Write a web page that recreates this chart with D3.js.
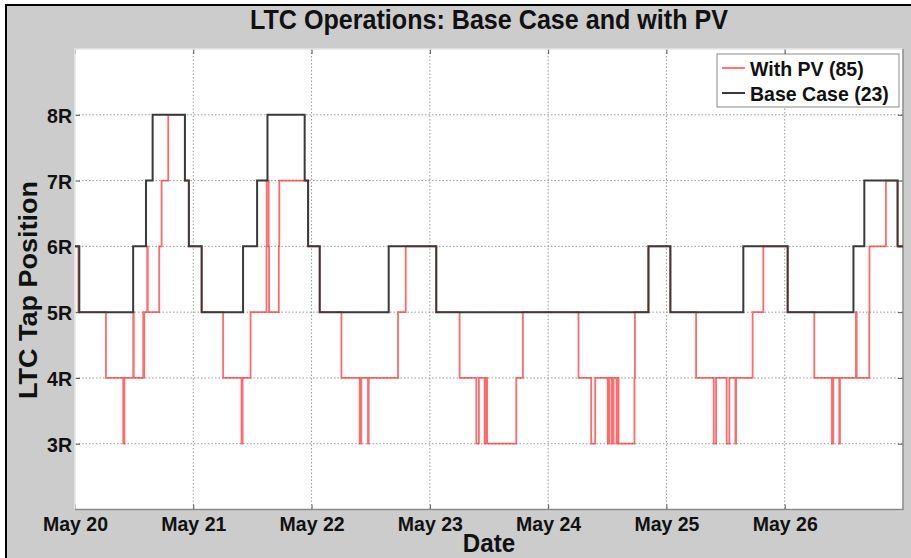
<!DOCTYPE html>
<html>
<head>
<meta charset="utf-8">
<script src="https://cdn.jsdelivr.net/npm/d3@7"></script>
<style>
  html, body { margin: 0; padding: 0; background: #fff; }
  svg { display: block; }
  text { font-family: 'Liberation Sans', Arial, sans-serif; font-weight: bold; }
</style>
</head>
<body>
<svg id="chart" width="911" height="558"></svg>
<script>
// tap changes as [hours since May 20 00:00, tap position]
const baseCaseSteps = [
    [0, 6], [0.87, 5], [11.8, 6], [14.4, 7], [15.75, 8], [22.3, 7], [23.1, 6], [25.7, 5],
    [34.1, 6], [36.95, 7], [39.05, 8], [46.6, 7], [47.3, 6], [49.65, 5],
    [63.65, 6], [73.3, 5], [116.35, 6], [120.8, 5], [135.6, 6], [144.6, 5],
    [157.95, 6], [160.15, 7], [166.9, 6]
];
const withPvSteps = [
    [0, 6], [0.67, 5], [6.28, 4], [9.79, 3], [10.03, 4], [11.82, 5], [11.92, 4], [13.85, 5],
    [13.95, 4], [14.05, 5], [14.66, 6], [14.76, 5], [17.09, 6], [17.57, 7], [18.92, 8],
    [22.3, 7], [23.1, 6], [25.7, 5],
    [30.06, 4], [33.79, 3], [34.0, 4], [35.62, 5], [38.86, 6], [38.9, 7], [39.3, 6], [39.38, 5],
    [41.35, 6], [41.45, 7], [47.3, 6], [49.65, 5],
    [54.06, 4], [57.77, 3], [58.08, 4], [59.45, 3], [59.59, 4], [65.54, 5], [67.1, 6], [73.3, 5],
    [78.04, 4], [81.43, 3], [81.95, 4], [83.11, 3], [83.31, 4], [83.62, 3], [89.53, 4], [90.87, 5],
    [102.16, 4], [104.74, 3], [105.55, 4], [108.1, 3], [108.45, 4], [108.95, 3], [109.26, 4],
    [109.87, 3], [110.07, 4], [110.27, 3], [113.51, 4], [113.6, 5], [116.35, 6], [120.8, 5],
    [126.02, 4], [129.6, 3], [130.07, 4], [132.22, 3], [132.77, 4], [133.99, 3], [134.13, 4],
    [137.49, 5], [139.66, 6], [144.6, 5],
    [150.0, 4], [153.59, 3], [153.85, 4], [155.07, 3], [155.21, 4], [158.45, 5], [158.6, 4],
    [161.15, 5], [161.2, 6], [164.54, 7], [166.9, 6]
];
const endHour = 168;
const dayLabels = ['May 20', 'May 21', 'May 22', 'May 23', 'May 24', 'May 25', 'May 26'];
const tapLevels = [3, 4, 5, 6, 7, 8];
const seriesNames = ['With PV (85)', 'Base Case (23)'];

const W = 911, H = 558;
const plot = { left: 75, right: 903, top: 49, bottom: 509.5 };
const squeeze = 0.93; // text in the picture is a bit narrow

const start = new Date(2013, 4, 20);
const toDate = h => new Date(start.getTime() + h * 3600e3);

const svg = d3.select('#chart');

// figure background with black frame
svg.append('rect')
    .attr('x', 6).attr('y', 5).attr('width', W + 10).attr('height', H + 10)
    .attr('fill', '#cccccc').attr('stroke', '#000').attr('stroke-width', 2);

const x = d3.scaleTime()
    .domain([start, toDate(endHour)])
    .range([plot.left, plot.right]);
const y = d3.scaleLinear()
    .domain([2, 9])
    .range([plot.bottom, plot.top]);

// plot area
svg.append('rect')
    .attr('x', plot.left).attr('y', plot.top)
    .attr('width', plot.right - plot.left).attr('height', plot.bottom - plot.top)
    .attr('fill', '#fff');

const dayTicks = dayLabels.map((d, i) => d3.timeDay.offset(start, i));

// gridlines
const grid = svg.append('g').attr('stroke', '#999').attr('stroke-dasharray', '1.5,2').attr('stroke-width', 1);
dayTicks.slice(1).forEach(t => {
    grid.append('line')
        .attr('x1', x(t)).attr('x2', x(t))
        .attr('y1', plot.top).attr('y2', plot.bottom);
});
tapLevels.forEach(v => {
    grid.append('line')
        .attr('x1', plot.left).attr('x2', plot.right)
        .attr('y1', y(v)).attr('y2', y(v));
});

// axes (ticks inside, MATLAB style)
const xAxis = svg.append('g')
    .attr('transform', `translate(0,${plot.bottom})`)
    .call(d3.axisBottom(x).tickValues(dayTicks).tickSizeInner(-5).tickSizeOuter(0)
        .tickFormat((d, i) => dayLabels[i]));
svg.append('g')
    .attr('transform', `translate(0,${plot.top})`)
    .call(d3.axisTop(x).tickValues(dayTicks).tickSizeInner(-5).tickSizeOuter(0).tickFormat(''));
const yAxis = svg.append('g')
    .attr('transform', `translate(${plot.left},0)`)
    .call(d3.axisLeft(y).tickValues(tapLevels).tickSizeInner(-5).tickSizeOuter(0)
        .tickFormat(d => d + 'R'));
svg.append('g')
    .attr('transform', `translate(${plot.right},0)`)
    .call(d3.axisRight(y).tickValues(tapLevels).tickSizeInner(-5).tickSizeOuter(0).tickFormat(''));

svg.selectAll('.domain').remove();
svg.selectAll('.tick line').attr('stroke', '#555');

xAxis.selectAll('text')
    .attr('font-size', '21px').attr('fill', '#111')
    .attr('y', 0).attr('dy', 0)
    .attr('transform', `translate(0,21.5) scale(${squeeze},1)`);
yAxis.selectAll('text')
    .attr('font-size', '21px').attr('fill', '#111')
    .attr('x', 0).attr('dy', '0.36em')
    .attr('text-anchor', 'end')
    .attr('transform', `translate(-3,0) scale(${squeeze},1)`);

// plot border: light on top/left, darker on right/bottom
svg.append('path')
    .attr('d', `M${plot.left},${plot.bottom}V${plot.top}H${plot.right}`)
    .attr('fill', 'none').attr('stroke', '#e6e6e6').attr('stroke-width', 1.5);
svg.append('path')
    .attr('d', `M${plot.left},${plot.bottom}H${plot.right}V${plot.top}`)
    .attr('fill', 'none').attr('stroke', '#8a8a8a').attr('stroke-width', 1.5);

// step lines
const stepLine = d3.line()
    .x(d => x(toDate(d[0])))
    .y(d => y(d[1]))
    .curve(d3.curveStepAfter);
const withEnd = s => s.concat([[endHour, s[s.length - 1][1]]]);

svg.append('path')
    .datum(withEnd(withPvSteps))
    .attr('d', stepLine)
    .attr('fill', 'none')
    .attr('stroke', '#ff1a1a')
    .attr('stroke-opacity', 0.65)
    .attr('stroke-width', 1.8);

svg.append('path')
    .datum(withEnd(baseCaseSteps))
    .attr('d', stepLine)
    .attr('fill', 'none')
    .attr('stroke', '#3a3a3a')
    .attr('stroke-width', 2);

// legend
const legend = svg.append('g');
legend.append('rect')
    .attr('x', 717).attr('y', 54).attr('width', 182).attr('height', 53)
    .attr('fill', '#fff').attr('stroke', '#8a8a8a').attr('stroke-width', 1);
const legendColors = [['#ff1a1a', 0.65, 1.8], ['#3a3a3a', 1, 2]];
seriesNames.forEach((name, i) => {
    const ly = 68 + i * 25;
    legend.append('line')
        .attr('x1', 722).attr('x2', 745).attr('y1', ly).attr('y2', ly)
        .attr('stroke', legendColors[i][0])
        .attr('stroke-opacity', legendColors[i][1])
        .attr('stroke-width', legendColors[i][2]);
    legend.append('text')
        .attr('transform', `translate(750,${ly + 7.5}) scale(${squeeze},1)`)
        .attr('font-size', '21px').attr('fill', '#111')
        .text(name);
});

// title and axis labels
svg.append('text')
    .attr('transform', `translate(489,29) scale(${squeeze},1)`)
    .attr('text-anchor', 'middle')
    .attr('font-size', '27px').attr('fill', '#111')
    .text('LTC Operations: Base Case and with PV');

svg.append('text')
    .attr('transform', `translate(489,552) scale(${squeeze},1)`)
    .attr('text-anchor', 'middle')
    .attr('font-size', '26px').attr('fill', '#111')
    .text('Date');

svg.append('text')
    .attr('transform', `translate(37,290) scale(${squeeze},1) rotate(-90)`)
    .attr('text-anchor', 'middle')
    .attr('font-size', '27px').attr('fill', '#111')
    .text('LTC Tap Position');
</script>
</body>
</html>
